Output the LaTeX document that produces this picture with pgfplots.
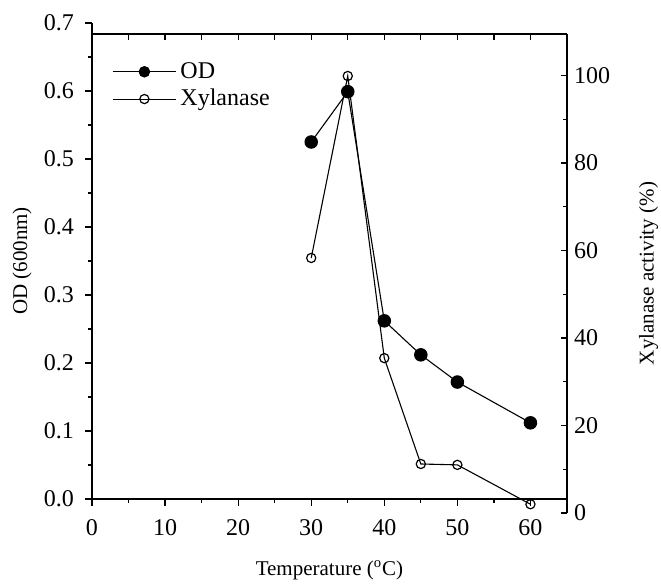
\documentclass[border=0pt]{standalone}
\usepackage{pgfplots}
\pgfplotsset{compat=1.18}
\usepackage{fontspec}
\setmainfont{Liberation Serif}
\begin{document}
\begin{tikzpicture}
\useasboundingbox (-46pt,-44pt) rectangle (284.5pt,249.5pt);
\begin{axis}[
  at={(0pt,0pt)}, anchor=south west,
  scale only axis, width=237.5pt, height=238pt,
  xmin=0, xmax=65, ymin=0, ymax=0.7,
  axis x line*=bottom, axis y line*=left,
  axis line style={-, line width=0.75pt},
  xtick={0,10,...,60}, minor xtick={5,15,...,55},
  ytick={0,0.1,...,0.7}, minor ytick={0.05,0.15,...,0.65},
  tick align=outside,
  major tick length=3.5pt, minor tick length=2pt,
  tick style={line width=0.6pt, black},
  /pgf/number format/assume math mode=true,
  yticklabel style={/pgf/number format/fixed, /pgf/number format/fixed zerofill, /pgf/number format/precision=1, xshift=-2pt},
  tick label style={font=\fontsize{12}{14}\selectfont},
  xticklabel style={yshift=-3pt},
  xlabel={Temperature ($^{\mathrm{o}}$C)},
  ylabel={OD (600nm)},
  label style={font=\fontsize{10.5}{12}\selectfont},
  xlabel style={at={(axis description cs:0.5,0)}, anchor=center, yshift=-35.5pt},
  ylabel style={at={(axis description cs:-0.147,0.5)}, anchor=center},
]
\addplot[black, line width=0.55pt, mark=*, mark size=3.1pt, mark options={fill=black}]
  coordinates {(30,0.525) (35,0.599) (40,0.262) (45,0.212) (50,0.172) (60,0.112)};
\end{axis}
\begin{axis}[
  at={(0pt,-7pt)}, anchor=south west,
  scale only axis, width=237.5pt, height=239.5pt,
  xmin=0, xmax=65, ymin=0, ymax=109.5,
  axis x line*=top, axis y line*=right,
  axis line style={-, line width=0.75pt},
  xtick={5,10,...,60}, xticklabels={},
  ytick={0,20,...,100}, minor ytick={10,30,...,90},
  tick align=inside,
  major tick length=3pt, minor tick length=2pt,
  tick style={line width=0.6pt, black},
  /pgf/number format/assume math mode=true,
  tick label style={font=\fontsize{12}{14}\selectfont},
  ylabel={Xylanase activity (\%)},
  label style={font=\fontsize{10.5}{12}\selectfont},
  ylabel style={at={(axis description cs:1.172,0.5)}, anchor=center},
  legend style={at={(0.042,0.95)}, anchor=north west, draw=none, fill=none,
    font=\fontsize{12}{12}\selectfont, row sep=0pt, inner sep=0pt},
  legend cell align=left,
  legend image code/.code={\draw[#1, mark repeat=2, mark phase=2] plot coordinates {(0pt,0pt) (15.75pt,0pt) (31.5pt,0pt)};},
]
\addlegendimage{black, line width=0.55pt, mark=*, mark size=2.6pt, mark options={fill=black}}
\addlegendentry{OD}
\addplot[black, line width=0.55pt, mark=o, mark size=2.3pt, mark options={fill=white, line width=0.6pt}]
  coordinates {(30,58.3) (35,99.9) (40,35.4) (45,11.2) (50,11.0) (60,2.0)};
\addlegendentry{Xylanase}
\end{axis}
\end{tikzpicture}
\end{document}
